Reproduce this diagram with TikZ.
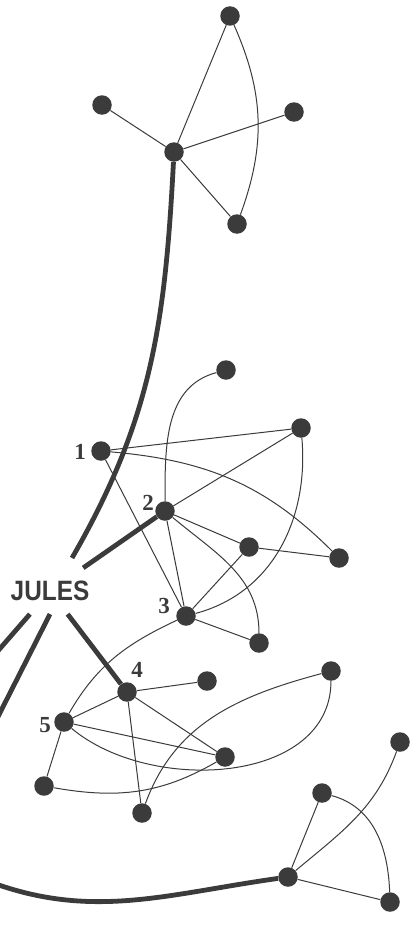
\documentclass[tikz,border=0pt]{standalone}
\usepackage{fontspec}
\setmainfont{Liberation Serif}
\newfontfamily\julesfont[FakeStretch=0.87]{Liberation Sans}
\definecolor{ink}{HTML}{3B3B3B}

\begin{document}
\begin{tikzpicture}[x=1pt, y=1pt,
    dot/.style={circle, fill=ink, inner sep=0pt, minimum size=19.5pt},
    link/.style={draw=ink, line width=1pt},
    tie/.style={draw=ink, line width=4.8pt},
    num/.style={font=\fontsize{23}{23}\selectfont\bfseries, text=ink, inner sep=0pt}]
    \useasboundingbox (0,0) rectangle (414,-942);
    \clip (0,0) rectangle (414,-942);

    % --- TOP CLUSTER ---
    \node[dot] (t1) at (230,-16) {};
    \node[dot] (t2) at (102,-105) {};
    \node[dot] (t3) at (294,-112) {};
    \node[dot] (thub) at (174,-152) {};
    \node[dot] (t4) at (237,-224) {};

    \draw[link] (thub) -- (t1);
    \draw[link] (thub) -- (t2);
    \draw[link] (thub) -- (t3);
    \draw[link] (thub) -- (t4);
    \draw[link] (t1) to[bend left=22] (t4);

    % --- MIDDLE CLUSTER ---
    \node[dot] (m1) at (101,-451) {};
    \node[dot] (mtop) at (226,-370) {};
    \node[dot] (mright) at (301,-428) {};
    \node[dot] (m2) at (165,-511) {};
    \node[dot] (mmid) at (249,-547) {};
    \node[dot] (mfar) at (339,-558) {};
    \node[dot] (m3) at (186,-616) {};
    \node[dot] (mlow) at (259,-643) {};

    \node[num] (lab1) at (80,-452) {1};
    \node[num] (lab2) at (148,-503) {2};
    \node[num] (lab3) at (164,-606) {3};

    \draw[link] (m1) -- (mright);
    \draw[link] (m1) -- (m3);
    \draw[link] (m2) -- (mright);
    \draw[link] (m2) -- (mmid);
    \draw[link] (m2) -- (m3);
    \draw[link] (mmid) -- (mfar);
    \draw[link] (mmid) -- (m3);
    \draw[link] (m3) -- (mlow);
    \draw[link] (m1) to[out=-5, in=135] (mfar);
    \draw[link] (mtop) to[out=195, in=90] (m2);
    \draw[link] (mright) to[out=-85, in=15] (m3);
    \draw[link] (m2) to[out=-40, in=90] (mlow);

    % --- LOWER CLUSTER ---
    \node[dot] (b4) at (127,-692) {};
    \node[dot] (b4r) at (207,-681) {};
    \node[dot] (b5) at (64,-722) {};
    \node[dot] (bfar) at (331,-671) {};
    \node[dot] (bmid) at (225,-757) {};
    \node[dot] (bl) at (44,-786) {};
    \node[dot] (bbot) at (142,-813) {};

    \node[num] (lab4) at (137,-670) {4};
    \node[num] (lab5) at (45,-725) {5};

    \draw[link] (b4) -- (b4r);
    \draw[link] (b4) -- (b5);
    \draw[link] (b4) -- (bmid);
    \draw[link] (b4) -- (bbot);
    \draw[link] (b5) -- (bmid);
    \draw[link] (b5) -- (bl);
    \draw[link] (m3) to[out=205, in=60] (b5);
    \draw[link] (b5) to[out=-40, in=270] (bfar);
    \draw[link] (bl) to[out=-10, in=210] (bmid);
    \draw[link] (bbot) to[out=70, in=195] (bfar);

    % --- RIGHT CLUSTER ---
    \node[dot] (rtop) at (400,-742) {};
    \node[dot] (rmid) at (322,-793) {};
    \node[dot] (rhub) at (288,-877) {};
    \node[dot] (rbot) at (390,-902) {};

    \draw[link] (rhub) -- (rmid);
    \draw[link] (rhub) -- (rbot);
    \draw[link] (rhub) to[out=40, in=250] (rtop);
    \draw[link] (rmid) to[out=-15, in=92] (rbot);

    % --- JULES AND HIS TIES ---
    \node[font=\julesfont\bfseries\fontsize{28}{28}\selectfont, text=ink,
          inner xsep=4pt, inner ysep=13pt] (jules) at (50,-591) {JULES};

    \coordinate (jtop) at (72,-558);
    \coordinate (la) at (-10,-660);
    \coordinate (lb) at (-24,-760);
    \coordinate (west) at (-20,-878);

    \draw[tie] (thub) to[out=-93, in=60] (jtop);
    \draw[tie] (jules) -- (m2);
    \draw[tie] (jules) -- (b4);
    \draw[tie] (jules) -- (la);
    \draw[tie] (jules.south) -- (lb);
    \draw[tie] (west) to[out=-22, in=188] (rhub);
\end{tikzpicture}
\end{document}
